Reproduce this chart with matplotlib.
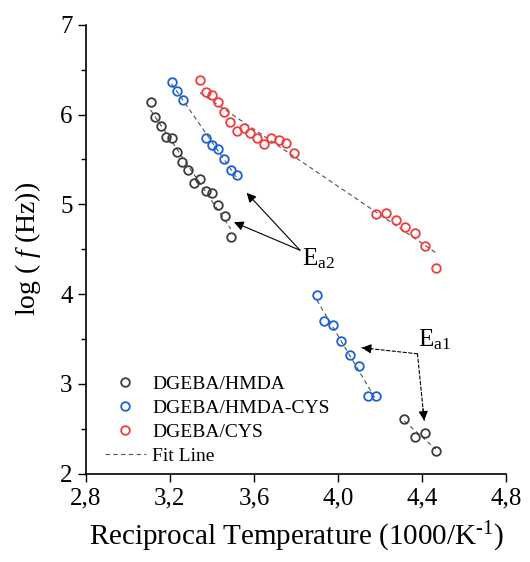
import numpy as np
import matplotlib
matplotlib.use('Agg')
import matplotlib.pyplot as plt
from matplotlib.ticker import MultipleLocator

plt.rcParams['font.family'] = ['Liberation Serif', 'DejaVu Serif']
plt.rcParams['mathtext.fontset'] = 'custom'
plt.rcParams['mathtext.rm'] = 'Liberation Serif'
plt.rcParams['mathtext.it'] = 'Liberation Serif:italic'

# DGEBA/HMDA
hmda_x1 = [3.108, 3.129, 3.157, 3.181, 3.208, 3.232, 3.259, 3.288, 3.316, 3.343,
           3.371, 3.401, 3.430, 3.460, 3.489]
hmda_y1 = [6.144, 5.970, 5.876, 5.750, 5.735, 5.586, 5.474, 5.378, 5.233, 5.278,
           5.147, 5.128, 4.991, 4.872, 4.637]
hmda_x2 = [4.316, 4.365, 4.416, 4.465]
hmda_y2 = [2.610, 2.413, 2.450, 2.249]

# DGEBA/HMDA-CYS
cys_mix_x1 = [3.208, 3.233, 3.260, 3.370, 3.400, 3.430, 3.457, 3.489, 3.520]
cys_mix_y1 = [6.367, 6.267, 6.166, 5.742, 5.661, 5.613, 5.504, 5.385, 5.329]
cys_mix_x2 = [3.899, 3.933, 3.975, 4.016, 4.057, 4.099, 4.144, 4.181]
cys_mix_y2 = [3.990, 3.700, 3.660, 3.481, 3.328, 3.202, 2.867, 2.867]

# DGEBA/CYS
cys_x = [3.343, 3.371, 3.401, 3.430, 3.456, 3.487, 3.519, 3.551, 3.581, 3.616,
         3.649, 3.681, 3.718, 3.752, 3.789,
         4.182, 4.229, 4.275, 4.319, 4.368, 4.416, 4.465]
cys_y = [6.386, 6.256, 6.219, 6.137, 6.032, 5.917, 5.817, 5.847, 5.791, 5.736,
         5.675, 5.736, 5.713, 5.683, 5.575,
         4.891, 4.905, 4.824, 4.749, 4.682, 4.541, 4.288]

x_ticks = [2.8, 3.2, 3.6, 4.0, 4.4, 4.8]
x_ticklabels = ['2,8', '3,2', '3,6', '4,0', '4,4', '4,8']
y_ticks = [2, 3, 4, 5, 6, 7]

# annotation anchors
ea2_origin = (3.819, 4.489)
ea2_tips = [(3.565, 5.128), (3.505, 4.801)]
ea1_origin = (4.378, 3.336)
ea1_tips = [(4.113, 3.403), (4.410, 2.592)]

c_black = '#3c3c3c'
c_blue = '#1a62d4'
c_red = '#f03c3c'
c_fit = '#505050'

fig = plt.figure(figsize=(5.3, 5.62), dpi=100)
ax = fig.add_axes([0.162, 0.157, 0.793, 0.799])

mk = dict(marker='o', ls='none', mfc='none', ms=6.2, mew=1.3)
ax.plot(hmda_x1 + hmda_x2, hmda_y1 + hmda_y2, mec=c_black, label='DGEBA/HMDA', **mk)
ax.plot(cys_mix_x1 + cys_mix_x2, cys_mix_y1 + cys_mix_y2, mec=c_blue,
        label='DGEBA/HMDA-CYS', **mk)
ax.plot(cys_x, cys_y, mec=c_red, label='DGEBA/CYS', **mk)

# fit lines
segments = [(hmda_x1, hmda_y1), (hmda_x2, hmda_y2), (cys_mix_x1, cys_mix_y1),
            (cys_mix_x2, cys_mix_y2), (cys_x, cys_y)]
for i, (sx, sy) in enumerate(segments):
    p = np.polyfit(sx, sy, 1)
    xx = np.array([min(sx), max(sx)])
    ax.plot(xx, np.polyval(p, xx), ls=(0, (4, 3)), lw=0.8, color=c_fit,
            label='Fit Line' if i == 0 else None, zorder=1)

# Ea2 arrows
for tip in ea2_tips:
    ax.annotate('', xy=tip, xytext=ea2_origin,
                arrowprops=dict(arrowstyle='-|>', lw=0.8, color='black',
                                mutation_scale=14, shrinkA=0, shrinkB=0))
ax.text(ea2_origin[0] + 0.01, 4.32, r'E$_{\rm a2}$', fontsize=18, ha='left', va='baseline')

# Ea1 arrows (dashed)
for tip in ea1_tips:
    ax.annotate('', xy=tip, xytext=ea1_origin,
                arrowprops=dict(arrowstyle='-', lw=0.8, color='black', ls=(0, (3, 2)),
                                shrinkA=0, shrinkB=0))
    d = np.array(tip) - np.array(ea1_origin)
    start = np.array(tip) - d * 0.18
    ax.annotate('', xy=tip, xytext=tuple(start),
                arrowprops=dict(arrowstyle='-|>', lw=0.8, color='black',
                                mutation_scale=14, shrinkA=0, shrinkB=0))
ax.text(4.381, 3.417, r'E$_{\rm a1}$', fontsize=18, ha='left', va='baseline')

ax.set_xlim(2.8, 4.8)
ax.set_ylim(2, 7)
ax.set_xticks(x_ticks)
ax.set_xticklabels(x_ticklabels)
ax.set_yticks(y_ticks)
ax.yaxis.set_minor_locator(MultipleLocator(0.5))
ax.tick_params(which='major', direction='out', length=6, width=1, labelsize=18)
ax.tick_params(which='minor', direction='out', length=3.5, width=1)
for s in ['top', 'right']:
    ax.spines[s].set_visible(False)
for s in ['left', 'bottom']:
    ax.spines[s].set_linewidth(1.2)

ax.set_xlabel('Reciprocal Temperature (1000/K$^{\\mathregular{\u2010}1}$)',
              fontsize=21, labelpad=8)
ax.set_ylabel(r'log ( $\it{f}$ (Hz))', fontsize=20, labelpad=12)

ax.legend(loc='lower left', bbox_to_anchor=(0.045, 0.02), frameon=False,
          fontsize=14, handlelength=2.1, handletextpad=0.35, labelspacing=0.32,
          borderpad=0, borderaxespad=0)

fig.savefig('out.png', dpi=100, facecolor='white')
